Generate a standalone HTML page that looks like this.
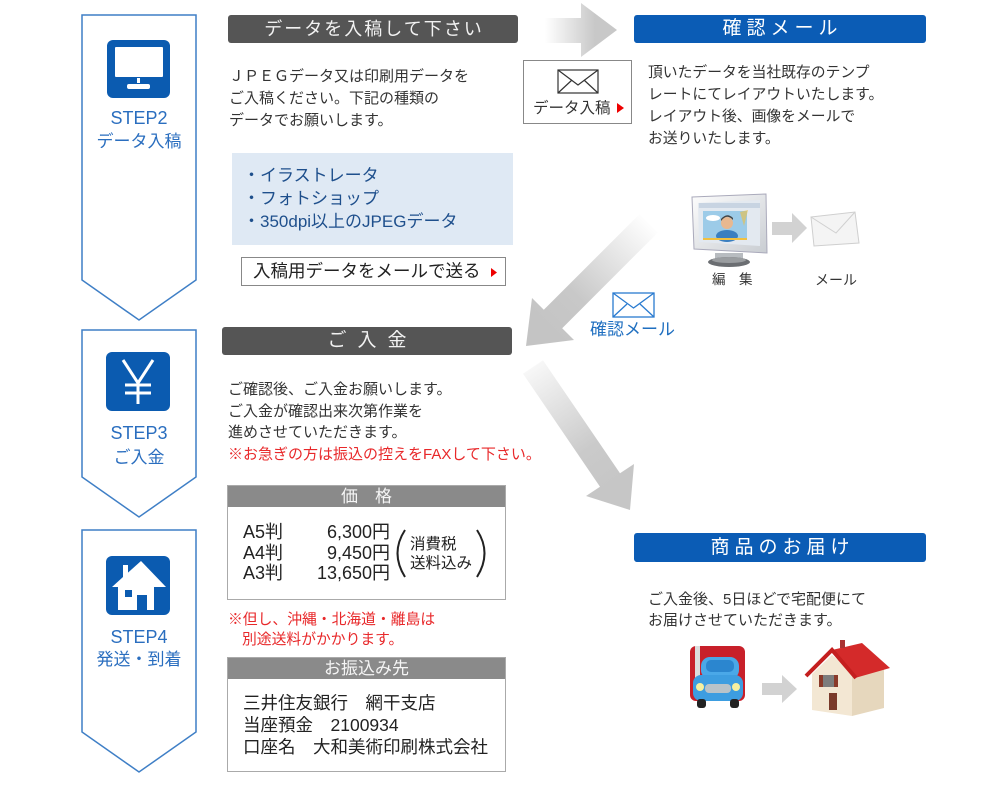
<!DOCTYPE html>
<html><head><meta charset="utf-8">
<style>
*{margin:0;padding:0;box-sizing:border-box}
body{width:1000px;height:788px;background:#fff;position:relative;overflow:hidden;font-family:"Liberation Sans","Noto Sans CJK JP",sans-serif;color:#333}
.a{position:absolute;white-space:nowrap}
.bar{position:absolute;border-radius:3px;color:#f2f2f2;text-align:center;white-space:nowrap}
.step{position:absolute;left:82px;width:114px;text-align:center;color:#2a6ebf;white-space:nowrap}
</style></head><body>
<svg width="1000" height="788" style="position:absolute;left:0;top:0">
<defs>
<linearGradient id="g1" gradientUnits="userSpaceOnUse" x1="545" y1="0" x2="595" y2="0"><stop offset="0" stop-color="#fff"/><stop offset="1" stop-color="#c8c8c8"/></linearGradient>
<linearGradient id="g2" gradientUnits="userSpaceOnUse" x1="650" y1="222" x2="545" y2="328"><stop offset="0" stop-color="#fff"/><stop offset="0.7" stop-color="#c8c8c8"/><stop offset="1" stop-color="#c4c4c4"/></linearGradient>
<linearGradient id="g3" gradientUnits="userSpaceOnUse" x1="530" y1="362" x2="615" y2="485"><stop offset="0" stop-color="#fafafa"/><stop offset="0.7" stop-color="#cacaca"/><stop offset="1" stop-color="#c6c6c6"/></linearGradient>
<linearGradient id="bez" x1="0" y1="0" x2="1" y2="1"><stop offset="0" stop-color="#fdfdfd"/><stop offset="1" stop-color="#c9cdd2"/></linearGradient>
</defs>
<polygon points="82,15 196,15 196,280 139,320 82,280" fill="#fff" stroke="#3f7fc6" stroke-width="1.5"/>
<polygon points="82,330 196,330 196,477 139,517 82,477" fill="#fff" stroke="#3f7fc6" stroke-width="1.5"/>
<polygon points="82,530 196,530 196,732 139,772 82,732" fill="#fff" stroke="#3f7fc6" stroke-width="1.5"/>
<rect x="107" y="40" width="63" height="58" rx="6" fill="#0b5bb0"/>
<rect x="115" y="47" width="48" height="30" rx="1" fill="#fff"/>
<rect x="137" y="78" width="3" height="5" fill="#fff"/>
<rect x="127" y="84" width="23" height="5" rx="2" fill="#fff"/>
<rect x="106" y="352" width="64" height="59" rx="6" fill="#0b5bb0"/>
<g stroke="#fff" stroke-width="3" fill="none">
<line x1="123" y1="360" x2="138" y2="383"/><line x1="153" y1="360" x2="138" y2="383"/>
<line x1="138" y1="383" x2="138" y2="404"/>
<line x1="125" y1="385" x2="151" y2="385"/><line x1="125" y1="393" x2="151" y2="393"/>
</g>
<rect x="106" y="556" width="64" height="59" rx="6" fill="#0b5bb0"/>
<polygon points="112,587 123,577 123,565 128,565 128,572.6 141,561 166,587 154,587 154,610 118,610 118,587" fill="#fff"/>
<rect x="137" y="595" width="10" height="15" fill="#0b5bb0"/>
<rect x="125" y="590" width="7" height="7" fill="#0b5bb0"/>
<polygon points="545,18 581,18 581,3 617,30 581,57 581,43 545,43" fill="url(#g1)"/>
<polygon points="639.3,214.3 543.8,309.8 532,298 526,346 574,340 562.2,328.2 657.7,232.7" fill="url(#g2)"/>
<polygon points="543,360.3 620,473.3 634,464 630,510 586,496 600,486.7 523,373.7" fill="url(#g3)"/>
<polygon points="772,222 792,222 792,213 807,228 792,243 792,235 772,235" fill="#d2d2d2"/>
<polygon points="762,683 782,683 782,675 797,689 782,703 782,695 762,695" fill="#d2d2d2"/>
<rect x="523.5" y="60.5" width="108" height="63" fill="#fff" stroke="#888"/>
<g stroke="#333" stroke-width="1.2" fill="none">
<rect x="558" y="70" width="40" height="23"/>
<polyline points="558,70 578,85 598,70"/>
<line x1="558" y1="93" x2="572" y2="80"/><line x1="598" y1="93" x2="584" y2="80"/>
</g>
<polygon points="617,103 624,108 617,113" fill="#e00"/>
<rect x="232" y="153" width="281" height="92" fill="#dfe9f4"/>
<rect x="241.5" y="257.5" width="264" height="28" fill="#fff" stroke="#888"/>
<polygon points="491,268 497,272.5 491,277" fill="#e00"/>
<g stroke="#2a7bd0" stroke-width="1.3" fill="none">
<rect x="613" y="293" width="41" height="24" fill="#fff"/>
<polyline points="613,293 633.5,308 654,293"/>
<line x1="613" y1="317" x2="627" y2="304"/><line x1="654" y1="317" x2="640" y2="304"/>
</g>
<polygon points="692,197 766,194 767,253 694,249" fill="url(#bez)" stroke="#aab" stroke-width="1"/>
<polygon points="698,203 760,200 760,246 699,242" fill="#e3e9f0"/>
<rect x="699" y="203" width="61" height="5" fill="#c8d4e2"/>
<rect x="703" y="211" width="44" height="29" fill="#9ccbe8"/>
<ellipse cx="713" cy="218" rx="7" ry="3" fill="#fff"/>
<ellipse cx="727" cy="236" rx="11" ry="6" fill="#3a7fc0"/>
<circle cx="727" cy="223" r="6" fill="#e8b890"/>
<path d="M721,221 Q727,213 733,220 L733,218 Q727,212 721,219Z" fill="#444"/>
<rect x="703" y="238" width="44" height="2" fill="#f0c040"/>
<polygon points="740,212 748,210 744,226" fill="#f0c040" opacity="0.6"/>
<rect x="715" y="253" width="28" height="7" fill="#b8bcc0"/>
<ellipse cx="729" cy="262" rx="21" ry="5" fill="#6b6e72"/>
<ellipse cx="729" cy="260" rx="17" ry="3" fill="#9a9da0"/>
<polygon points="811,217 855,212 859,243 814,246" fill="#f4f4f4" stroke="#cfcfcf"/>
<polyline points="811,217 836,233 855,212" fill="none" stroke="#d0d0d0"/>
<rect x="227.5" y="485.5" width="278" height="114" fill="#fff" stroke="#aaa"/>
<rect x="228" y="486" width="277" height="21" fill="#8a8a8a"/>
<path d="M405,530 Q390,553 405,577" stroke="#222" stroke-width="2" fill="none"/>
<path d="M477,530 Q492,553 477,577" stroke="#222" stroke-width="2" fill="none"/>
<rect x="227.5" y="657.5" width="278" height="114" fill="#fff" stroke="#aaa"/>
<rect x="228" y="658" width="277" height="21" fill="#8a8a8a"/>
<rect x="690" y="646" width="55" height="55" rx="6" fill="#c8202a"/>
<rect x="695" y="646" width="5" height="34" fill="#ddd"/>
<rect x="701" y="657" width="38" height="22" rx="9" fill="#4aa8e8"/>
<rect x="706" y="660" width="28" height="12" rx="5" fill="#2b86cf"/>
<rect x="693" y="675" width="50" height="26" rx="8" fill="#3d9de0"/>
<rect x="705" y="684" width="26" height="9" rx="4" fill="#b9c3c9"/>
<circle cx="700" cy="687" r="4" fill="#f6f0a0"/>
<circle cx="736" cy="687" r="4" fill="#f6f0a0"/>
<rect x="697" y="699" width="9" height="9" rx="3" fill="#222"/>
<rect x="730" y="699" width="9" height="9" rx="3" fill="#222"/>
<polygon points="852,670 884,668 884,708 852,716" fill="#e6d7bd"/>
<polygon points="812,674 832,655 852,672 852,716 812,710" fill="#f3e7d3"/>
<polygon points="832,650 862,643 890,668 855,678" fill="#d42a2a"/>
<polyline points="806,676 832,650 856,678" fill="none" stroke="#c41f1f" stroke-width="4"/>
<rect x="840" y="640" width="5" height="8" fill="#a33"/>
<rect x="823" y="675" width="11" height="12" fill="#7d7d7d"/>
<rect x="819" y="675" width="4" height="12" fill="#8a3a2a"/>
<rect x="834" y="675" width="4" height="12" fill="#8a3a2a"/>
<rect x="829" y="693" width="8" height="17" fill="#7a3a2a"/>
</svg>

<div class="bar" style="left:228px;top:15px;width:290px;height:28px;background:#555;font-size:18px;line-height:28px;letter-spacing:2px;padding-left:2px">データを入稿して下さい</div>
<div class="bar" style="left:634px;top:15px;width:292px;height:28px;background:#0b5cb5;font-size:19px;line-height:28px;letter-spacing:5px;padding-left:5px;color:#fff">確認メール</div>
<div class="bar" style="left:222px;top:327px;width:290px;height:28px;background:#555;font-size:19px;line-height:28px;letter-spacing:11px;padding-left:11px">ご入金</div>
<div class="bar" style="left:634px;top:533px;width:292px;height:29px;background:#0b5cb5;font-size:19px;line-height:29px;letter-spacing:5px;padding-left:5px;color:#fff">商品のお届け</div>

<div class="step" style="top:107px;font-size:18px;line-height:23px">STEP2<br><span style="font-size:17px">データ入稿</span></div>
<div class="step" style="top:421px;font-size:18px;line-height:24px">STEP3<br><span style="font-size:17px">ご入金</span></div>
<div class="step" style="top:626px;font-size:18px;line-height:22px">STEP4<br><span style="font-size:17px">発送・到着</span></div>

<div class="a" style="left:229px;top:66px;font-size:15px;line-height:22px">ＪＰＥＧデータ又は印刷用データを<br>ご入稿ください。下記の種類の<br>データでお願いします。</div>
<div class="a" style="left:533px;top:98px;font-size:15.5px;line-height:21px">データ入稿</div>
<div class="a" style="left:648px;top:62px;font-size:14.8px;line-height:22px">頂いたデータを当社既存のテンプ<br>レートにてレイアウトいたします。<br>レイアウト後、画像をメールで<br>お送りいたします。</div>
<div class="a" style="left:243px;top:163.5px;font-size:17px;line-height:23px;color:#1e4f8c">・イラストレータ<br>・フォトショップ<br>・350dpi以上のJPEGデータ</div>
<div class="a" style="left:253px;top:257px;font-size:17.5px;line-height:29px;color:#222">入稿用データをメールで送る</div>
<div class="a" style="left:712px;top:271px;font-size:13.5px;line-height:18px">編　集</div>
<div class="a" style="left:815px;top:271px;font-size:14px;line-height:18px">メール</div>
<div class="a" style="left:590px;top:319px;font-size:17px;line-height:22px;color:#1f6fc0">確認メール</div>

<div class="a" style="left:228px;top:379px;font-size:15px;line-height:21.5px">ご確認後、ご入金お願いします。<br>ご入金が確認出来次第作業を<br>進めさせていただきます。<br><span style="color:#e8282a">※お急ぎの方は振込の控えをFAXして下さい。</span></div>

<div class="a" style="left:228px;top:486px;width:277px;text-align:center;font-size:17px;line-height:21px;color:#f5f5f5">価　格</div>
<div class="a" style="left:243px;top:522px;font-size:18px;line-height:20.7px;color:#222">A5判<br>A4判<br>A3判</div>
<div class="a" style="left:290px;top:522px;width:100px;text-align:right;font-size:18px;line-height:20.7px;color:#222">6,300円<br>9,450円<br>13,650円</div>
<div class="a" style="left:410px;top:534.5px;font-size:15.5px;line-height:19.5px;color:#222">消費税<br>送料込み</div>

<div class="a" style="left:228px;top:610px;font-size:14.8px;line-height:20px;color:#e8282a">※但し、沖縄・北海道・離島は<br><span style="padding-left:14px">別途送料がかかります。</span></div>

<div class="a" style="left:228px;top:658px;width:277px;text-align:center;font-size:17px;line-height:21px;color:#f5f5f5">お振込み先</div>
<div class="a" style="left:243px;top:692px;font-size:17.5px;line-height:22px;color:#222">三井住友銀行　網干支店<br>当座預金　2100934<br>口座名　大和美術印刷株式会社</div>

<div class="a" style="left:648px;top:588.5px;font-size:15px;line-height:21px">ご入金後、5日ほどで宅配便にて<br>お届けさせていただきます。</div>
</body></html>
